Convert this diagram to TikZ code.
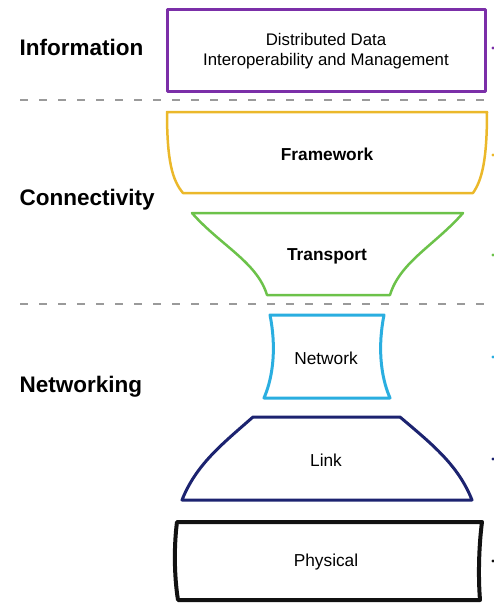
\documentclass[tikz,border=0pt]{standalone}
\usepackage{fontspec}
\setmainfont{Liberation Sans}
\definecolor{infocol}{HTML}{7B2FA8}
\definecolor{framecol}{HTML}{EBB82A}
\definecolor{transcol}{HTML}{6CC24A}
\definecolor{netcol}{HTML}{2AAEE0}
\definecolor{linkcol}{HTML}{1C2370}
\definecolor{physcol}{HTML}{111111}
\definecolor{sepcol}{HTML}{9A9A9A}
\begin{document}
\begin{tikzpicture}[x=1pt, y=-1pt,
    layer/.style={line width=#1, line join=round},
    sepline/.style={sepcol, line width=2pt, dash pattern=on 8pt off 11pt},
    group/.style={anchor=west, font=\fontsize{22.5}{26}\selectfont\bfseries},
    inner/.style={font=\fontsize{17.3}{21}\selectfont, align=center},
    innerbold/.style={font=\fontsize{17.3}{21}\selectfont\bfseries},
    tick/.style={radius=1.6pt}]
  \useasboundingbox (0,0) rectangle (494,614);

      %%group labels
      \node[group] (info) at (16,47){Information};
      \node[group] (conn) at (16,200){Connectivity};
      \node[group] (netw) at (16,387){Networking};

      %%separators
      \draw[sepline](20,100) to (494,100);
      \draw[sepline](20,304) to (494,304);

      %%information
      \draw[layer=3pt, infocol](167,9) rectangle (485,91);
        \node[inner, font=\fontsize{16.8}{20}\selectfont] (ddi) at (326,51){Distributed Data\\Interoperability and Management};
        \fill[infocol](493,48) circle[tick];

      %%framework
      \draw[layer=2.5pt, framecol](167,112) to (487,112)
          .. controls (487,160) and (482,180) .. (473,193) to (183,193)
          .. controls (172,180) and (167,160) .. (167,112) -- cycle;
        \node[innerbold] (fw) at (327,154){Framework};
        \fill[framecol](493,155) circle[tick];

      %%transport
      \draw[layer=2.5pt, transcol](192,213) to (463,213)
          .. controls (435,245) and (400,262) .. (390,295) to (267,295)
          .. controls (257,262) and (220,245) .. (192,213) -- cycle;
        \node[innerbold] (tr) at (327,256){Transport};
        \fill[transcol](493,255) circle[tick];

      %%network
      \draw[layer=3pt, netcol](270,315) to (384,315)
          .. controls (378,345) and (380,375) .. (390,398) to (264,398)
          .. controls (274,375) and (276,345) .. (270,315) -- cycle;
        \node[inner] (nw) at (326,358){Network};
        \fill[netcol](493,357) circle[tick];

      %%link
      \draw[layer=3pt, linkcol](253,417) to (400,417)
          .. controls (433,445) and (458,465) .. (472,500) to (182,500)
          .. controls (196,465) and (221,445) .. (253,417) -- cycle;
        \node[inner] (lk) at (326,460){Link};
        \fill[linkcol](493,459) circle[tick];

      %%physical
      \draw[layer=4pt, physcol](177,522) to (482,522)
          .. controls (479,545) and (478,575) .. (480,600) to (178,600)
          .. controls (174,575) and (174,545) .. (177,522) -- cycle;
        \node[inner] (ph) at (326,562){Physical};
        \fill[physcol](493,561) circle[tick];

\end{tikzpicture}
\end{document}
